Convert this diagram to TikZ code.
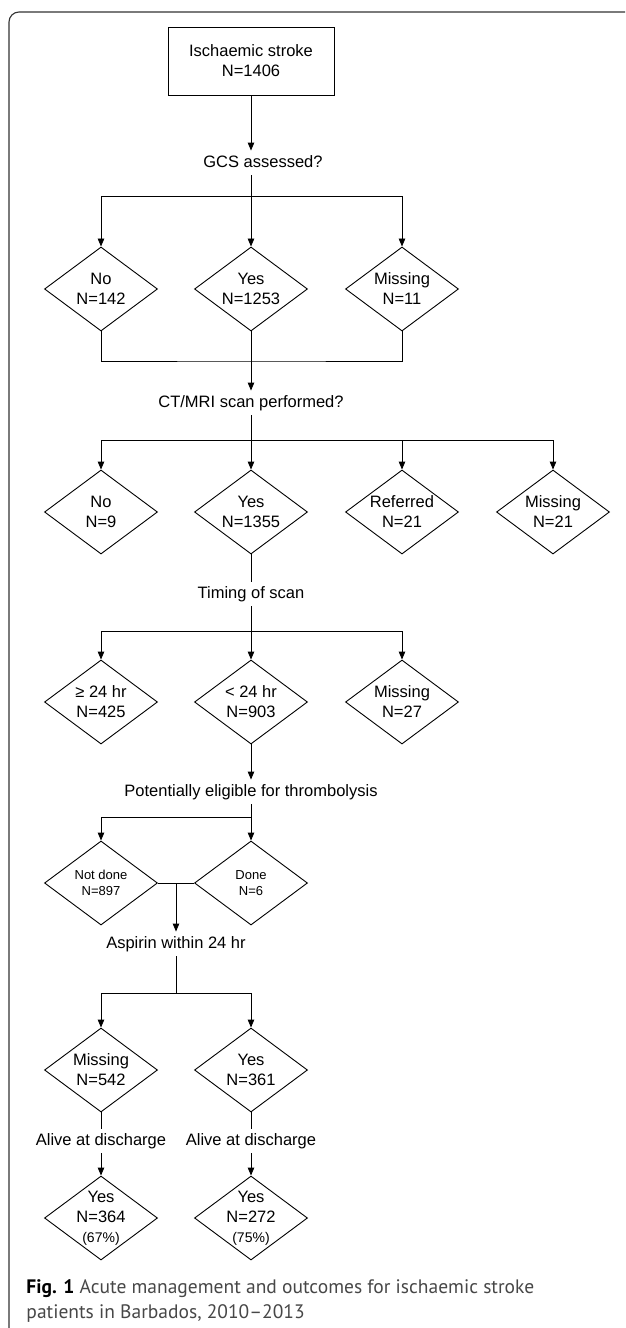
\documentclass[tikz,border=0pt]{standalone}
\usepackage{fontspec}
\setmainfont{Liberation Sans}
\newfontfamily\capfont{PT Sans}
\usetikzlibrary{positioning, arrows.meta, shapes.geometric}
\tikzset{>={Triangle[length=8pt,width=6.5pt]}, node distance=150pt,
  every node/.style={font=\fontsize{16.5}{20}\selectfont},
  dia/.style={diamond, draw, aspect=1.345, minimum width=113pt, minimum height=84pt, inner sep=0pt, align=center},
  lbl/.style={text height=11pt, text depth=3pt, inner ysep=5pt},
  captext/.style={anchor=base west, inner sep=0pt, font=\capfont\fontsize{19.5}{25}\selectfont, text=black!72}}

\begin{document}
\begin{tikzpicture}[x=1pt, y=1pt, line width=0.9pt]
        \useasboundingbox (0,0) rectangle (625,-1328);
        \draw[black!80, line width=1.1pt, rounded corners=10pt] (9,-1328) -- (9,-12) -- (625,-12);

        \node[draw, minimum width=166pt, minimum height=68pt, align=center] (stroke) at (251,-61) {Ischaemic stroke\\N=1406};
        \node[lbl, below of=stroke, node distance=102pt, xshift=12pt] (gcs) {GCS assessed?};
        \node[dia, below of=stroke, node distance=228pt] (gcsyes) {Yes\\N=1253};
        \node[dia, left of=gcsyes] (gcsno) {No\\N=142};
        \node[dia, right of=gcsyes, node distance=151pt] (gcsmiss) {Missing\\N=11};
        \coordinate[above of=gcsyes, node distance=93pt] (gcssplit);
        \coordinate[below of=gcsyes, node distance=72pt] (gcsjoin);

        \node[lbl, below of=gcsyes, node distance=114pt] (ctmri) {CT/MRI scan performed?};
        \node[dia, below of=ctmri, node distance=109pt] (ctyes) {Yes\\N=1355};
        \node[dia, left of=ctyes] (ctno) {No\\N=9};
        \node[dia, right of=ctyes, node distance=151pt] (ctref) {Referred\\N=21};
        \node[dia, right of=ctref, node distance=151pt] (ctmiss) {Missing\\N=21};
        \coordinate[above of=ctyes, node distance=72pt] (ctsplit);

        \node[lbl, below of=ctyes, node distance=82pt] (timing) {Timing of scan};
        \node[dia, below of=timing, node distance=108pt] (lt24) {< 24 hr\\N=903};
        \node[dia, left of=lt24] (ge24) {≥ 24 hr\\N=425};
        \node[dia, right of=lt24, node distance=151pt] (tmiss) {Missing\\N=27};
        \coordinate[above of=lt24, node distance=71pt] (tsplit);

        \node[lbl, below of=lt24, node distance=90pt] (elig) {Potentially eligible for thrombolysis};
        \node[dia, font=\fontsize{13}{16}\selectfont, below of=elig, node distance=91pt] (done) {Done\\N=6};
        \node[dia, font=\fontsize{13}{16}\selectfont, left of=done] (notdone) {Not done\\N=897};
        \coordinate[above of=done, node distance=66pt] (esplit);

        \node[lbl, below of=notdone, node distance=61pt, xshift=75pt] (aspirin) {Aspirin within 24 hr};
        \coordinate[below of=aspirin, node distance=49pt] (asplit);
        \node[dia, below of=done, node distance=187pt] (aspyes) {Yes\\N=361};
        \node[dia, left of=aspyes] (aspmiss) {Missing\\N=542};

        \node[lbl, below of=aspmiss, node distance=71pt] (alive1) {Alive at discharge};
        \node[lbl, below of=aspyes, node distance=71pt] (alive2) {Alive at discharge};
        \node[dia, below of=alive1, node distance=77pt, label={[align=center]center:Yes\\N=364\\{\fontsize{14}{20}\selectfont(67\%)}}] (out1) {};
        \node[dia, below of=alive2, node distance=77pt, label={[align=center]center:Yes\\N=272\\{\fontsize{14}{20}\selectfont(75\%)}}] (out2) {};

        % connectors
        \draw[->] (stroke) -- (stroke |- gcs.north);
        \draw (stroke |- gcs.south) -- (gcssplit);
        \draw[->] (gcssplit) -- (gcsyes);
        \draw[->] (gcssplit) -| (gcsno);
        \draw[->] (gcssplit) -| (gcsmiss);
        \draw (gcsno) |- (gcsjoin) -| (gcsmiss);
        \draw[->] (gcsyes) -- (ctmri);

        \draw (ctmri) -- (ctsplit);
        \draw[->] (ctsplit) -- (ctyes);
        \draw[->] (ctsplit) -| (ctno);
        \draw[->] (ctsplit) -| (ctref);
        \draw[->] (ctsplit) -| (ctmiss);
        \draw (ctyes) -- (timing);

        \draw (timing) -- (tsplit);
        \draw[->] (tsplit) -- (lt24);
        \draw[->] (tsplit) -| (ge24);
        \draw[->] (tsplit) -| (tmiss);
        \draw[->] (lt24) -- (elig);

        \draw (elig) -- (esplit);
        \draw[->] (esplit) -- (done);
        \draw[->] (esplit) -| (notdone);
        \draw (notdone.east) -- (done.west);
        \draw[->] (aspirin |- notdone) -- (aspirin);

        \draw (aspirin) -- (asplit);
        \draw[->] (asplit) -| (aspmiss);
        \draw[->] (asplit) -| (aspyes);
        \draw (aspmiss) -- (alive1);
        \draw (aspyes) -- (alive2);
        \draw[->] (alive1) -- (out1);
        \draw[->] (alive2) -- (out2);

        % caption
        \node[captext] (cap1) at (26,-1293) {\textbf{\color{black}Fig. 1}\ Acute management and outcomes for ischaemic stroke};
        \node[captext] (cap2) at (26,-1318) {patients in Barbados, 2010–2013};
    \end{tikzpicture}
\end{document}
